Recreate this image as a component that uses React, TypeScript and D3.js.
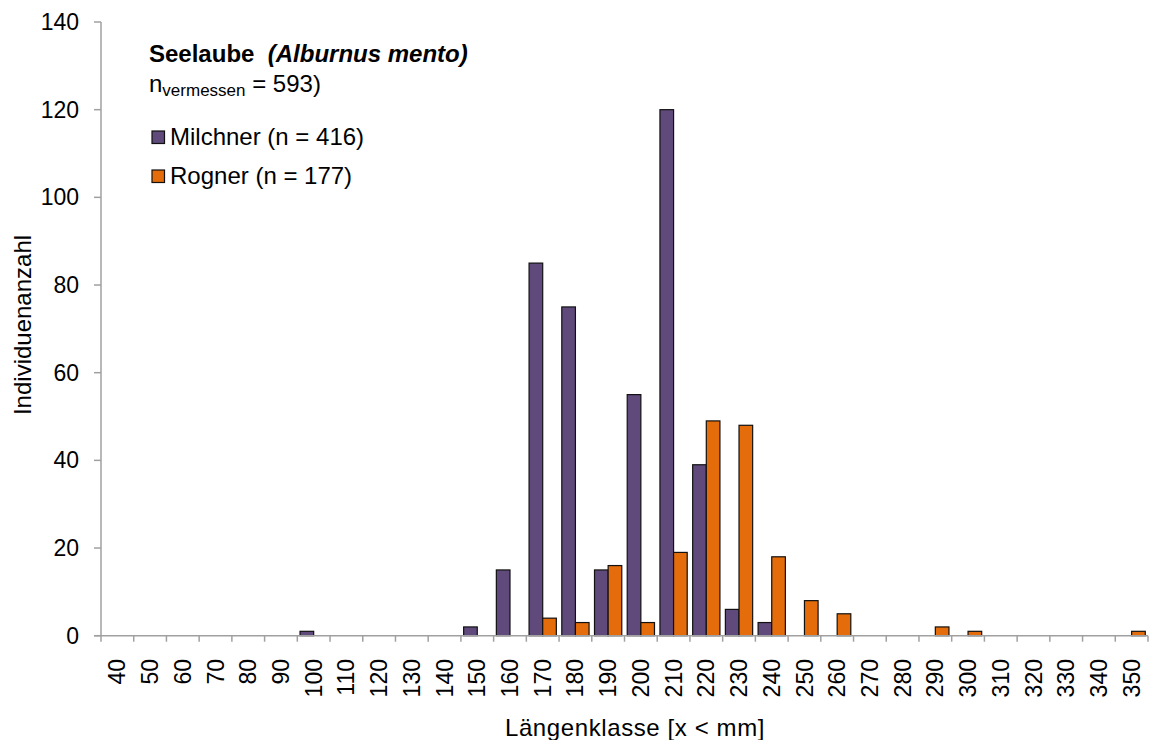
import React from "react";
import * as d3 from "d3";

const categories = [40,50,60,70,80,90,100,110,120,130,140,150,160,170,180,190,200,210,220,230,240,250,260,270,280,290,300,310,320,330,340,350].map(String);
const milchner = [0,0,0,0,0,0,1,0,0,0,0,2,15,85,75,15,55,120,39,6,3,0,0,0,0,0,0,0,0,0,0,0];
const rogner   = [0,0,0,0,0,0,0,0,0,0,0,0,0,4,3,16,3,19,49,48,18,8,5,0,0,2,1,0,0,0,0,1];
const seriesNames = ["Milchner (n = 416)", "Rogner (n = 177)"];
const seriesColors = ["#604a7b", "#e46c0a"];
const yTicks = [0,20,40,60,80,100,120,140];

const W = 1149, H = 740;
const left = 101, right = 1148, top = 22, bottom = 635.7;
const FONT = "'Liberation Sans', Arial, sans-serif";

export default function App() {
  const x = d3.scaleBand<string>().domain(categories).range([left, right]).padding(0);
  const y = d3.scaleLinear().domain([0, 140]).range([bottom, top]);
  const sub = d3.scaleBand<string>().domain(["m", "r"]).range([0, x.bandwidth()]).paddingInner(0).paddingOuter(0.2);
  const series = [milchner, rogner];
  const keys = ["m", "r"];
  const axisColor = "#a0a0a0";
  const fsTick = 23;
  const fsLeg = 24;
  const fsTitle = 24;

  return (
    <svg width={W} height={H} style={{ position: "absolute", left: 0, top: 0, background: "#fff" }} fontFamily={FONT}>
      <rect x={0} y={0} width={W} height={H} fill="#fff" />
      {/* bars */}
      {series.map((vals, si) =>
        vals.map((v, i) =>
          v > 0 ? (
            <rect
              key={`${si}-${i}`}
              x={(x(categories[i]) as number) + (sub(keys[si]) as number)}
              y={y(v)}
              width={sub.bandwidth()}
              height={y(0) - y(v)}
              fill={seriesColors[si]}
              stroke="#111"
              strokeWidth={1.2}
            />
          ) : null
        )
      )}
      {/* y axis */}
      <line x1={left} x2={left} y1={top} y2={bottom} stroke={axisColor} strokeWidth={1.5} />
      {yTicks.map((t) => (
        <g key={t}>
          <line x1={left - 7} x2={left} y1={y(t)} y2={y(t)} stroke={axisColor} strokeWidth={1.5} />
          <text x={left - 22} y={y(t)} dy="0.35em" textAnchor="end" fontSize={fsTick} fill="#000">{t}</text>
        </g>
      ))}
      {/* x axis */}
      <line x1={left - 7} x2={right} y1={bottom} y2={bottom} stroke={axisColor} strokeWidth={1.5} />
      {categories.map((c) => (
        <line key={"t" + c} x1={x(c)} x2={x(c)} y1={bottom} y2={bottom + 6} stroke={axisColor} strokeWidth={1.5} />
      ))}
      <line x1={right} x2={right} y1={bottom} y2={bottom + 6} stroke={axisColor} strokeWidth={1.5} />
      {categories.map((c) => {
        const cx = (x(c) as number) + x.bandwidth() / 2;
        return (
          <text key={"l" + c} transform={`translate(${cx},659) rotate(-90)`} dy="0.35em" textAnchor="end" fontSize={fsTick} fill="#000">{c}</text>
        );
      })}
      {/* axis titles */}
      <text x={635} y={736} textAnchor="middle" fontSize={fsTitle} letterSpacing={0.6} fill="#000">Längenklasse [x &lt; mm]</text>
      <text transform={`translate(31,325) rotate(-90)`} textAnchor="middle" fontSize={fsTitle} fill="#000">Individuenanzahl</text>
      {/* legend */}
      <text x={149} y={62} fontSize={fsLeg} fontWeight="bold" fill="#000">
        Seelaube{"\u00a0\u00a0"}<tspan fontStyle="italic">(Alburnus mento)</tspan>
      </text>
      <text x={149} y={92} fontSize={fsLeg} fill="#000">
        n<tspan fontSize={17} dy={4}>vermessen</tspan><tspan dy={-4}> = 593)</tspan>
      </text>
      {seriesNames.map((n, i) => (
        <g key={n}>
          <rect x={152} y={131 + i * 39} width={12.5} height={12.5} fill={seriesColors[i]} stroke="#111" strokeWidth={1.2} />
          <text x={170} y={144.5 + i * 39} fontSize={fsLeg} fill="#000">{n}</text>
        </g>
      ))}
    </svg>
  );
}
